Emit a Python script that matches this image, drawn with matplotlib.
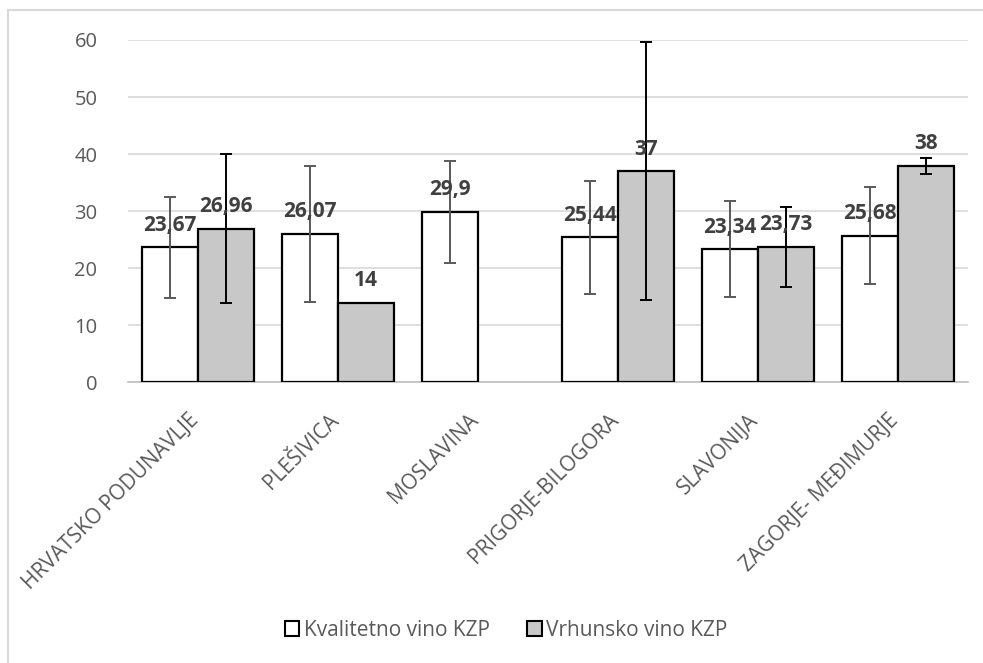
import matplotlib
matplotlib.use("Agg")
import matplotlib.pyplot as plt
import matplotlib.transforms as mtransforms
import numpy as np
from matplotlib.lines import Line2D
from matplotlib.patches import Patch

plt.rcParams['font.family'] = ['Open Sans', 'DejaVu Sans']

categories = ["HRVATSKO PODUNAVLJE", "PLEŠIVICA", "MOSLAVINA",
              "PRIGORJE-BILOGORA", "SLAVONIJA", "ZAGORJE- MEĐIMURJE"]
kvalitetno = [23.67, 26.07, 29.9, 25.44, 23.34, 25.68]
vrhunsko = [26.96, 14, np.nan, 37, 23.73, 38]
kvalitetno_err = [8.9, 11.9, 8.9, 9.9, 8.4, 8.5]
vrhunsko_err = [13.0, 0, np.nan, 22.6, 7.0, 1.4]
kval_labels = ["23,67", "26,07", "29,9", "25,44", "23,34", "25,68"]
vrh_labels = ["26,96", "14", "", "37", "23,73", "38"]
series_names = ["Kvalitetno vino KZP", "Vrhunsko vino KZP"]

W, H = 983, 663
fig = plt.figure(figsize=(W / 100, H / 100), dpi=100)
ax = fig.add_axes([128 / W, 1 - 382.5 / H, 840 / W, (382.5 - 40) / H])

x = np.arange(len(categories))
bw = 0.4
kx = x - bw / 2
vx = x + bw / 2

ax.bar(kx, kvalitetno, width=bw, color="white", edgecolor="black", linewidth=1.6, zorder=3)
vmask = ~np.isnan(np.array(vrhunsko, dtype=float))
ax.bar(vx[vmask], np.array(vrhunsko)[vmask], width=bw, color="#C8C8C8",
       edgecolor="black", linewidth=1.6, zorder=3)

ax.errorbar(kx, kvalitetno, yerr=kvalitetno_err, fmt="none", ecolor="#595959",
            elinewidth=1.4, capsize=4.2, capthick=1.4, zorder=4)
ve = np.array(vrhunsko_err, dtype=float)
vmask_e = vmask & (ve > 0)
ax.errorbar(vx[vmask_e], np.array(vrhunsko)[vmask_e], yerr=ve[vmask_e], fmt="none",
            ecolor="black", elinewidth=1.4, capsize=4.2, capthick=1.4, zorder=4)

for xi, v, lab in zip(kx, kvalitetno, kval_labels):
    ax.annotate(lab, (xi, v), xytext=(0, 12), textcoords="offset points",
                ha="center", va="baseline", fontsize=15, fontweight="bold",
                color="#404040", zorder=5)
for xi, v, lab in zip(vx, vrhunsko, vrh_labels):
    if lab:
        ax.annotate(lab, (xi, v), xytext=(0, 12), textcoords="offset points",
                    ha="center", va="baseline", fontsize=15, fontweight="bold",
                    color="#404040", zorder=5)

ax.set_ylim(0, 60)
ax.set_xlim(-0.5, len(categories) - 0.5)
ax.set_yticks(np.arange(0, 61, 10))
ax.yaxis.grid(True, color="#D9D9D9", linewidth=1.2, zorder=0)
ax.set_axisbelow(True)
for s in ["top", "right", "left"]:
    ax.spines[s].set_visible(False)
ax.spines["bottom"].set_color("#BFBFBF")
ax.spines["bottom"].set_linewidth(1.2)
ax.tick_params(axis="y", length=0, pad=22, labelsize=14.5, labelcolor="#595959")
ax.tick_params(axis="x", length=0, pad=16, labelsize=15, labelcolor="#595959")
ax.set_xticks(x)
ax.set_xticklabels(categories, rotation=45, ha="right", va="top", rotation_mode="anchor")
shift = mtransforms.ScaledTranslation(-10 / 100, -5 / 100, fig.dpi_scale_trans)
for t in ax.get_xticklabels():
    t.set_transform(t.get_transform() + shift)

handles = [Patch(facecolor="white", edgecolor="black", linewidth=1.5),
           Patch(facecolor="#C8C8C8", edgecolor="black", linewidth=1.5)]
fig.legend(handles, series_names, loc="center", bbox_to_anchor=(506 / W, 1 - 630 / H),
           ncol=2, frameon=False, fontsize=15, labelcolor="#595959",
           handlelength=0.7, handleheight=0.7, handletextpad=0.2, columnspacing=1.8)

# chart border (left and top visible)
fig.add_artist(Line2D([8 / W, 8 / W], [0, 1 - 10 / H], transform=fig.transFigure,
                      color="#D9D9D9", linewidth=1.5))
fig.add_artist(Line2D([8 / W, 1], [1 - 10 / H, 1 - 10 / H], transform=fig.transFigure,
                      color="#D9D9D9", linewidth=1.5))

fig.savefig("out.png", dpi=100)
